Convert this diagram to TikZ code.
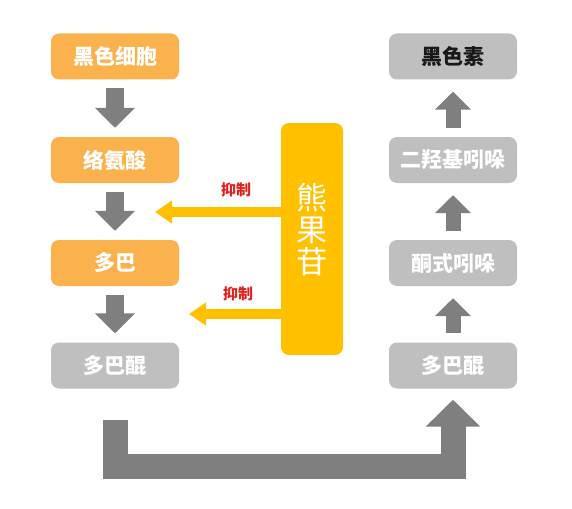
\documentclass[tikz,border=0pt]{standalone}
\usepackage{fontspec}
\newfontfamily\cjk{Noto Sans CJK SC}
\usetikzlibrary{arrows.meta,positioning}
\definecolor{amber}{HTML}{FBB24C}
\definecolor{gold}{HTML}{FFC000}
\definecolor{ash}{HTML}{BFBFBF}
\definecolor{flow}{HTML}{7F7F7F}
\definecolor{redtxt}{HTML}{E3201E}

\begin{document}
\begin{tikzpicture}[x=1pt,y=-1pt,
  box/.style={rounded corners=8pt,minimum width=128pt,minimum height=46pt,inner sep=0pt,
    font=\cjk\bfseries\fontsize{21}{24}\selectfont,text=white},
  orng/.style={box,fill=amber},
  grey/.style={box,fill=ash},
  dnarr/.style={draw=flow,line width=18pt,-{Triangle[width=39pt,length=20pt]},shorten <=8.5pt,shorten >=9pt},
  uparr/.style={draw=flow,line width=15pt,-{Triangle[width=35pt,length=18pt]},shorten <=9pt,shorten >=12pt},
  inh/.style={draw=gold,line width=10pt,-{Triangle[width=22pt,length=17pt]}},
  lbl/.style={font=\cjk\bfseries\fontsize{15}{17}\selectfont,text=redtxt},
  back/.style={draw=flow,line width=25pt,-{Triangle[width=53pt,length=27pt]}}]
\useasboundingbox (0,0) rectangle (572,508);
% left column
\node[orng] (cell) at (115,56.5){黑色细胞};
\node[orng] (tyr) at (115,160){络氨酸};
\node[orng] (dopa) at (115,263){多巴};
\node[grey] (lq) at (115,365.5){多巴醌};
\draw[dnarr] (cell)--(tyr);
\draw[dnarr] (tyr)--(dopa);
\draw[dnarr] (dopa)--(lq);
% right column
\node[grey,text=black!90] (mel) at (453,56.5){黑色素};
\node[grey] (dhi) at (453,160){二羟基吲哚};
\node[grey] (keto) at (453,263){酮式吲哚};
\node[grey] (rq) at (453,365.5){多巴醌};
\draw[uparr] (rq)--(keto);
\draw[uparr] (keto)--(dhi);
\draw[uparr] (dhi)--(mel);
% arbutin and inhibition
\node[fill=gold,rounded corners=8pt,minimum width=62pt,minimum height=232pt,inner sep=0pt] (arb) at (312,239){};
\node[font=\cjk\fontsize{31}{32}\selectfont,text=white,align=center] (arbt) at ([yshift=9pt]arb.center){熊\\果\\苷};
\coordinate (t1) at (155,212);
\coordinate (t2) at (189,314);
\draw[inh] (t1-|arb.west)--(t1);
\draw[inh] (t2-|arb.west)--(t2);
\node[lbl] (i1) at (236,190){抑制};
\node[lbl] (i2) at (238,294){抑制};
% return path
\draw[back] ([yshift=-31pt]lq.south)--++(0,47)-|([yshift=-11pt]rq.south);
\end{tikzpicture}
\end{document}
